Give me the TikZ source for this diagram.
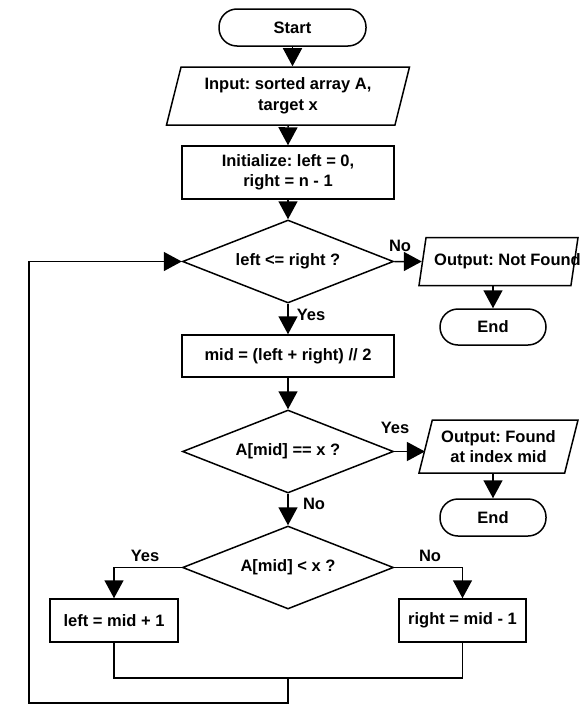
\documentclass[tikz,border=0pt]{standalone}
\usepackage{fontspec}
\setmainfont{Liberation Sans}
\usetikzlibrary{shapes.geometric,arrows.meta}
\frenchspacing

\begin{document}
\begin{tikzpicture}[x=1pt,y=-1pt,line width=1.5pt,->,>={Triangle[length=18pt,width=19pt]},
  font=\fontsize{16.5}{20.5}\selectfont\bfseries]
  \tikzstyle{term}=[draw,rectangle,rounded corners=18pt,minimum height=37pt,inner sep=0pt]
  \tikzstyle{io}=[draw,trapezium,trapezium left angle=70,trapezium right angle=110,
trapezium stretches body,align=center,inner sep=2pt]
  \tikzstyle{proc}=[draw,rectangle,align=center,inner sep=0pt]
  \tikzstyle{test}=[draw,diamond,aspect=2.54,minimum width=211pt,minimum height=83pt,inner sep=0pt]
  \useasboundingbox (0,0) rectangle (585,723);

  \node[term,minimum width=147pt] (F_start) at (292.5,27.5) {Start};
  \node[io,minimum width=243pt,minimum height=58pt] (F_in) at (288,96) {Input: sorted array A,\\target x};
  \node[proc,minimum width=212pt,minimum height=53pt] (F_init) at (288,172.5) {Initialize: left = 0,\\right = n - 1};
  \node[test] (F_cmp) at (288,261.5) {left <= right ?};
  \node[io,minimum width=159pt,minimum height=48pt,inner xsep=-22pt] (F_nf) at (498.5,261.5) {\hspace*{18pt}Output: Not Found};
  \node[term,minimum width=106pt,minimum height=36pt] (F_end1) at (493,327) {End};
  \node[proc,minimum width=212pt,minimum height=42pt] (F_mid) at (288,356) {mid = (left + right) // 2};
  \node[test] (F_eq) at (288,451.5) {A[mid] == x ?};
  \node[io,minimum width=159pt,minimum height=53pt] (F_found) at (498.5,446.5) {Output: Found\\at index mid};
  \node[term,minimum width=106pt] (F_end2) at (493,517.5) {End};
  \node[test] (F_lt) at (288,567.5) {A[mid] < x ?};
  \node[proc,minimum width=128pt,minimum height=43pt] (F_left) at (114,620.5) {left = mid + 1};
  \node[proc,minimum width=127pt,minimum height=43pt] (F_right) at (462.5,620.5) {right = mid - 1};

  \node (L_no1) at (400,246) {No};
  \node (L_yes1) at (311,315) {Yes};
  \node (L_yes2) at (395,428) {Yes};
  \node (L_no2) at (314,504) {No};
  \node (L_yes3) at (145,556) {Yes};
  \node (L_no3) at (430,556) {No};

  \coordinate (C_join) at (288,678);
  \coordinate (C_low) at (29,703);

  \draw (F_start.south) -- (F_start.south |- F_in.north);
  \draw (F_in) -- (F_init);
  \draw (F_init) -- (F_cmp);
  \draw (F_cmp.east) -- (F_nf.west);
  \draw (F_nf.south -| F_end1.north) -- (F_end1.north);
  \draw (F_cmp) -- (F_mid);
  \draw (F_mid) -- (F_eq);
  \draw (F_eq.east) -- (F_eq.east -| F_found.west);
  \draw (F_found.south -| F_end2.north) -- (F_end2.north);
  \draw (F_eq) -- (F_lt);
  \draw (F_lt.west) -| (F_left.north);
  \draw (F_lt.east) -| (F_right.north);
  \draw[-] (F_left.south) |- (C_join) -| (F_right.south);
  \draw (C_join) |- (C_low) |- (F_cmp.west);
\end{tikzpicture}
\end{document}
